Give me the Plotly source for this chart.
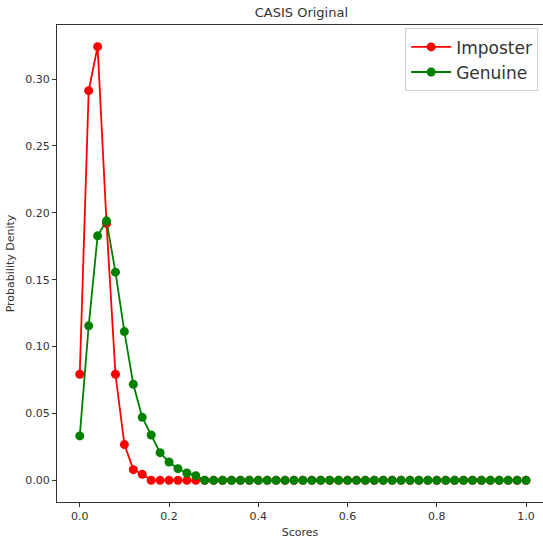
import plotly.graph_objects as go

scores = [round(i * 0.02, 2) for i in range(51)]
imposter = [0.0793, 0.2913, 0.3242, 0.192, 0.0793, 0.0267, 0.0080, 0.0045] + [0.0] * 43
genuine = [0.0332, 0.1155, 0.1828, 0.194, 0.1556, 0.1112, 0.0718, 0.0471, 0.0339, 0.0207,
           0.0137, 0.0087, 0.0055, 0.0035] + [0.0] * 37

fig = go.Figure()
fig.add_trace(go.Scatter(x=scores, y=imposter, mode="lines+markers", name="Imposter",
                         line=dict(color="red", width=1.8), marker=dict(color="red", size=9)))
fig.add_trace(go.Scatter(x=scores, y=genuine, mode="lines+markers", name="Genuine",
                         line=dict(color="green", width=1.8), marker=dict(color="green", size=9)))

axis_common = dict(showgrid=False, zeroline=False, showline=True,
                   linecolor="#333333", linewidth=1, ticks="outside", ticklen=4,
                   tickcolor="#333333", tickfont=dict(family="DejaVu Sans", size=11, color="#333333"))
fig.update_xaxes(range=[-0.051, 1.038], tickvals=[0, 0.2, 0.4, 0.6, 0.8, 1.0], mirror=True,
                 ticktext=["0.0", "0.2", "0.4", "0.6", "0.8", "1.0"],
                 title=dict(text="Scores", font=dict(family="DejaVu Sans", size=11, color="#333333"), standoff=6),
                 **axis_common)
fig.update_yaxes(range=[-0.0162, 0.3404], tickvals=[0, 0.05, 0.1, 0.15, 0.2, 0.25, 0.3], mirror=False,
                 ticktext=["0.00", "0.05", "0.10", "0.15", "0.20", "0.25", "0.30"],
                 title=dict(text="Probability Denity", font=dict(family="DejaVu Sans", size=11, color="#333333"), standoff=8),
                 **axis_common)
fig.update_layout(
    width=543, height=539,
    margin=dict(l=57, r=0, t=25, b=37),
    paper_bgcolor="white", plot_bgcolor="white",
    title=dict(text="CASIS Original", x=0.555, xanchor="center", y=0.977, yanchor="middle",
               font=dict(family="DejaVu Sans", size=13, color="#333333")),
    legend=dict(x=0.99, y=0.993, xanchor="right", yanchor="top", itemwidth=40,
                bgcolor="rgba(255,255,255,0.8)", bordercolor="#d0d0d0", borderwidth=1,
                font=dict(family="DejaVu Sans", size=17, color="#333333")),
)
fig.write_html("out.html")
